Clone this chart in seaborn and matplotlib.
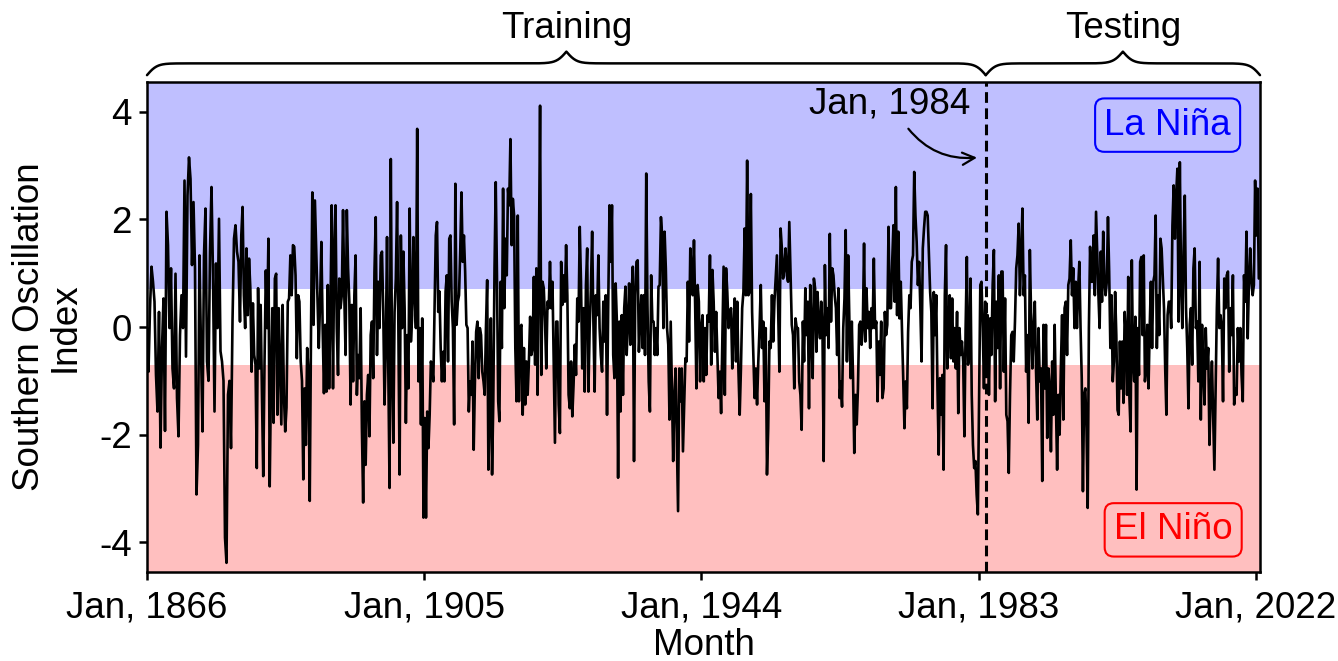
import numpy as np
import pandas as pd
import seaborn as sns
import matplotlib
matplotlib.use("Agg")
import matplotlib.pyplot as plt

# SOI values, one block per 157 months (~13 years)
soi_1866 = [-0.02, -0.83, 0.35, 1.12, 0.84, 0.47, -0.89, -1.57, 0.28, -2.24, -0.4, 0.53, -1.93, 2.14, 1.52, -0.02,
            1.09, -0.77, -1.14, 0.99, -1.32, -2.03, -0.15, 0.59, -0.02, 2.72, -0.55, 2.44, 3.15, 2.75, 1.15, 2.32,
            1.09, -3.11, -2.19, 1.33, -0.4, -1.94, 1.33, 2.2, -0.64, -1.0, 1.4, 2.6, 0.96, -1.57, 1.18, -0.02,
            2.01, -0.45, -0.64, -1.0, -3.91, -4.38, -1.26, -1.0, -2.25, 0.1, 1.64, 1.89, 1.4, 1.21]
soi_1879 = [0.1, 1.7, 2.23, 0.59, -0.02, 1.46, 0.22, 1.27, 0.72, -0.83, 0.44, -0.52, -0.7, -2.62, 0.72, -0.77,
            0.41, -1.26, -2.77, -0.64, 1.05, -0.02, 1.64, -2.96, -1.01, 0.35, -1.78, 0.9, 0.99, -1.63, 0.35, -0.7,
            -1.81, 0.41, -1.26, -1.94, -1.5, 0.47, 0.53, 1.33, 0.59, 1.52, 1.49, 0.96, -0.58, 0.59, 0.47, -0.64,
            -1.0, -2.83, -1.14, -2.19, -0.39, -0.83, -3.23, -0.02, 2.5, 0.04, 2.35, 1.46, 0.59, -0.39, 0.47, 1.58,
            -0.02, -1.23, 0.04, -1.2, 0.78, -1.14, 0.22, 2.26]
soi_1892 = [-1.14, 1.4, 2.26, -0.02, -0.89, 0.9, 0.35, 0.59, 2.17, 0.59, -0.52, 2.17, 1.09, 0.47, -1.44, 0.41,
            -1.01, 0.59, 1.33, -1.26, -0.52, -0.95, 0.35, -1.88, -3.26, -1.38, -2.56, -1.26, -0.89, -2.03, -0.15, 0.1,
            -0.95, 1.03, 2.04, -0.52, 0.84, -0.02, 1.33, 1.4, 0.28, -1.44, -0.39, 1.67, -0.77, -2.99, 3.12, -0.77,
            -2.15, 0.28, 0.9, 2.32, 0.04, -2.74, 1.7, -0.02, 1.4, 0.35, -1.78, -0.15, -1.14, 2.2, -0.27, 0.22,
            1.67, 0.59, -0.02, 3.68, -1.01, -0.02, -1.81, 0.16, -3.54, -1.69]
soi_1905 = [-3.54, -1.57, -2.25, -1.63, -0.64, -0.77, -1.01, 0.35, 1.7, 1.95, 0.28, 0.66, -0.39, -1.01, -0.46, -1.01,
            0.66, 0.96, -0.64, 1.64, 1.7, 0.47, -0.02, -1.81, 2.66, 0.04, 0.47, 0.59, 1.43, 2.5, 1.21, 1.7,
            1.03, 0.04, -0.02, -1.57, -1.01, -1.26, -0.27, -2.28, -1.01, -0.09, 0.1, -0.95, -0.02, -0.15, -0.83, -1.01,
            -1.26, -0.02, 0.87, -2.65, -1.63, 0.16, -2.74, -1.38, 1.09, 2.69, 0.96, -1.38, -1.75, 0.84, -0.39, 2.57,
            0.35, 1.64, 0.96, 2.57, 2.26, 3.49, 1.52, 2.38, 2.07, -0.39, -1.38, 2.07]
soi_1918 = [-1.38, -0.02, 0.04, -1.63, -0.39, -1.44, -0.64, -1.26, -0.64, 0.19, -0.52, -0.39, 0.93, -0.7, 1.09, -1.26,
            1.09, 4.11, -0.89, 0.84, 0.72, 0.1, -0.77, 0.47, 0.35, 1.21, 0.35, 0.84, -0.64, -2.15, 0.1, 0.1,
            -1.44, -1.97, 1.21, 0.41, 0.96, 0.47, 1.52, 0.59, -1.26, -1.51, -0.64, -1.66, -1.08, -0.33, -0.89, 0.53,
            0.1, 1.86, 0.84, -0.77, 0.35, -1.2, 0.78, 1.46, -1.2, -0.02, 0.72, 1.77, 0.1, -1.2, 0.59, 0.22,
            1.33, -0.02, -0.52, -0.83, 0.47, -0.27, 0.59, -1.63, 0.47, 2.26, 1.21]
soi_1931 = [2.26, -0.52, -0.95, 0.81, 0.1, -2.8, 0.1, -1.57, 0.22, -1.26, 0.35, 0.75, -0.52, 0.1, 0.81, -0.33,
            0.59, 1.12, -2.49, 0.59, 1.21, 1.24, -0.46, 0.1, 0.59, -0.39, 0.59, -0.52, 2.85, 0.41, -1.01, -1.57,
            0.96, 0.1, 0.1, -0.52, -0.02, -0.52, 0.75, 0.78, 2.04, 1.7, -0.02, 1.77, 1.09, -0.02, -0.33, -1.72,
            0.1, -1.2, -2.49, -1.26, -0.77, -2.12, -3.42, -0.77, -1.38, -0.77, -2.31, -1.44, -0.58, -0.64, 0.84, -0.27,
            1.46, 1.09, 0.59, 1.61, 0.35, -1.14, 0.78, 0.47, -1.01, -0.02, 0.22, -1.01]
soi_1944 = [-0.02, -0.89, 0.22, 0.1, 1.33, -0.7, 1.06, 0.47, -0.46, 0.28, -0.52, -1.32, -0.83, -1.6, -0.27, 1.12,
            -1.26, 1.09, 0.65, -0.02, 0.22, 0.35, -0.77, -0.02, 0.53, -0.64, 0.47, -0.83, -1.63, -0.77, 0.35, 0.65,
            1.83, 0.59, 3.09, 0.59, 0.65, 2.47, 0.28, -0.52, -1.32, -0.77, -1.44, -0.64, -0.02, 0.78, -0.39, 0.1,
            -1.38, -0.02, -2.74, -1.88, -0.27, -0.39, 0.59, -0.27, 0.47, 0.9, 1.33, 0.35, -0.83, 1.83, 1.46, 0.9,
            1.09, 1.46, 0.96, 0.84, 1.95, 0.96, 0.04, -0.15, -1.14, 0.16, -0.02]
soi_1957 = [-0.02, -1.01, -1.26, -1.91, 0.1, -0.64, 0.72, -0.15, 0.47, -1.51, 0.78, -0.02, -0.95, 0.9, 0.72, -0.46,
            0.65, 0.04, -0.21, 0.47, -0.02, -2.49, 1.15, -0.15, 0.35, -0.39, 1.73, 0.1, 1.09, 0.96, 0.59, 0.35,
            -0.52, 0.72, -1.32, -1.01, -1.48, -0.02, 0.53, 1.8, -0.64, 1.33, 0.1, -0.95, 0.1, -0.95, -2.34, -1.26,
            -1.81, -1.14, 0.04, 0.1, -0.33, 0.04, 1.55, -0.27, 0.72, -0.02, 0.28, -0.39, 0.35, -0.02, 1.27, -0.02,
            0.1, -1.38, -0.27, -0.89, 0.1, -1.32, -1.14, 0.28, -0.15, 0.04, 1.86, 0.35]
soi_1970 = [0.35, 1.21, 1.89, 0.47, 2.6, 0.22, 1.77, 0.16, 0.84, -0.02, -0.95, -1.88, -1.01, -1.51, -0.09, 0.59,
            0.35, 1.21, 1.33, 2.88, 2.07, 1.58, 0.78, 1.21, 0.35, -0.64, 1.46, 1.83, 2.14, 2.14, 2.07, 1.33,
            0.65, 0.28, -1.51, 0.65, -0.15, 0.59, -1.14, -2.37, -0.95, -1.63, -0.89, -2.65, 0.59, 1.52, -0.77, -0.02,
            0.59, -0.58, 0.53, -0.64, -0.02, -0.77, 0.28, -1.6, -0.02, -0.52, -0.27, -0.64, -2.03, -0.02, 1.3, -0.7,
            -0.52, 0.9, -1.26, -2.19, -2.62, -2.49, -3.11, -3.48, -1.26, 0.78, 0.84, -0.02]
soi_1983 = [-1.14, 0.47, -0.89, 0.22, -1.26, 0.16, -0.52, 0.78, 1.43, -1.38, 0.47, -0.39, 0.96, -1.14, 1.03, 1.03,
            -0.83, 0.53, -1.63, -1.75, -2.71, -1.26, -0.15, -0.09, -0.64, 0.1, 1.09, 1.33, 1.92, 0.59, 1.33, 2.2,
            0.59, 0.96, -0.83, -0.15, -1.78, 1.43, 0.22, -0.77, -0.02, 0.47, -0.83, -1.72, -0.02, -1.01, -0.77, -2.86,
            0.04, -1.14, 0.04, -2.06, -0.77, -1.14, -2.31, -0.64, -1.63, 0.04, -1.38, -2.65, -1.26, -2.0, -0.77, 0.22,
            -1.72, 0.35, 0.47, -0.52, 0.78, 0.9, 1.61, 0.59, 1.09, -0.02, 0.84]
soi_1996 = [-0.02, 0.72, 1.21, -0.02, -0.95, -3.05, -1.26, -1.14, -1.88, -3.36, -0.02, 1.49, 0.84, 0.84, 1.7, 0.59,
            2.14, 1.33, 0.59, -0.02, 1.4, 0.47, 1.77, 0.84, 0.59, 0.84, 2.04, 1.03, -0.39, 0.59, -1.01, -0.64,
            0.65, -0.15, -1.54, -1.63, -0.27, -1.14, -0.27, -1.41, 0.28, -0.15, -1.26, 0.93, -1.32, -1.94, 1.24, -0.64,
            -1.01, 0.19, -3.02, -0.02, -0.89, 1.21, 1.3, -0.15, 1.33, -1.01, -0.77, 0.04, -1.14, -0.02, 0.84, -0.39,
            0.84, 0.96, 2.07, -0.39, 0.59, -0.15, 1.64, 1.46, 0.9, 0.35, -0.77, -1.63, 0.22, 0.47]
soi_2009 = [0.47, -0.02, 1.89, 2.63, 1.64, 2.44, 2.94, 0.1, 3.06, 0.84, -0.02, 1.4, 2.44, 0.35, -0.39, -1.51,
            0.04, 0.35, -0.7, 1.09, 1.46, -0.02, 0.1, -1.01, 1.21, -1.72, 0.04, -0.77, -1.44, -0.02, -0.77, -0.39,
            -2.19, -1.26, -0.64, -1.63, -2.65, -1.14, 0.35, 1.27, -0.02, 0.22, -0.02, -1.38, 0.9, 0.35, 0.96, 1.03,
            -0.83, 0.35, -0.15, 0.96, -1.44, -1.14, -1.26, -0.02, -0.64, -0.02, -0.89, -1.38, 0.96, 0.47, 1.77, -0.21,
            0.84, 1.46, 0.84, 0.59, 0.78, 2.72, 1.7, 2.57, 0.9]

blocks = [soi_1866, soi_1879, soi_1892, soi_1905, soi_1918, soi_1931,
          soi_1944, soi_1957, soi_1970, soi_1983, soi_1996, soi_2009]
block_len = 157      # months per block
last_month = 1877    # Jun 2022, counted from Jan 1866
xmax = 1879

tick_months = [0, 468, 936, 1404, 1872]
tick_labels = ['Jan, 1866', 'Jan, 1905', 'Jan, 1944', 'Jan, 1983', 'Jan, 2022']
y_ticks = [-4, -2, 0, 2, 4]
split_month = 1416   # Jan 1984
la_nina_cut = 0.7
el_nino_cut = -0.7

months, values = [], []
for i, blk in enumerate(blocks):
    start = i * block_len
    if i == len(blocks) - 1:
        pos = np.linspace(start, last_month, len(blk))
    else:
        pos = np.linspace(start, start + block_len, len(blk), endpoint=False)
    months.extend(pos)
    values.extend(blk)
df = pd.DataFrame({'month': months, 'soi': values})

sns.set_style('ticks')
plt.rcParams['font.family'] = ['Liberation Sans', 'DejaVu Sans']
plt.rcParams['axes.unicode_minus'] = False
for k in ['text.color', 'axes.labelcolor', 'xtick.color', 'ytick.color', 'axes.edgecolor']:
    plt.rcParams[k] = 'black'
fs = 26.5

fig = plt.figure(figsize=(13.38, 6.61), dpi=100)
ax = fig.add_axes([147 / 1338, 1 - 572 / 661, 1113 / 1338, 490 / 661])
ylo, yhi = -4.55, 4.55

ax.axhspan(la_nina_cut, yhi, color='blue', alpha=0.25, lw=0)
ax.axhspan(ylo, el_nino_cut, color='red', alpha=0.25, lw=0)
sns.lineplot(data=df, x='month', y='soi', color='black', lw=1.9, ax=ax)
ax.axvline(split_month, color='black', ls=(0, (3.5, 1.8)), lw=2.2)

ax.set_xlim(0, xmax)
ax.set_ylim(ylo, yhi)
ax.set_xticks(tick_months)
ax.set_xticklabels(tick_labels)
ax.set_yticks(y_ticks)
ax.tick_params(labelsize=fs, length=6, width=1.8)
ax.tick_params(axis='x', pad=7)
ax.tick_params(axis='y', pad=5)
for s in ax.spines.values():
    s.set_linewidth(1.8)
ax.set_xlabel('Month', fontsize=fs, labelpad=2)
ax.set_ylabel('Southern Oscillation\nIndex', fontsize=fs, labelpad=12, linespacing=1.0)

ax.annotate('Jan, 1984', xy=(split_month - 10, 3.15), xytext=(1254, 4.15),
            fontsize=fs, ha='center', va='center',
            arrowprops=dict(arrowstyle='->', color='black', lw=1.6,
                            connectionstyle='arc3,rad=0.3', relpos=(0.58, 0.0),
                            shrinkA=4, shrinkB=2, mutation_scale=22))

ax.text(0.917, 0.912, 'La Niña', transform=ax.transAxes, fontsize=fs, color='blue',
        ha='center', va='center',
        bbox=dict(boxstyle='round,pad=0.25', fc='none', ec='blue', lw=1.5))
ax.text(0.922, 0.086, 'El Niño', transform=ax.transAxes, fontsize=fs, color='red',
        ha='center', va='center',
        bbox=dict(boxstyle='round,pad=0.25', fc='none', ec='red', lw=1.5))


def draw_brace(ax, x0, x1, label):
    n = 801
    xs = np.linspace(x0, x1, n)
    half = xs[:n // 2 + 1]
    beta = 220.0
    yh = 1 / (1 + np.exp(-beta * (half - half[0]))) + 1 / (1 + np.exp(-beta * (half - half[-1])))
    ys = np.concatenate([yh, yh[-2::-1]])
    ys = 1.014 + (ys - 0.5) * 0.048
    ax.plot(xs, ys, color='black', lw=1.8, transform=ax.transAxes, clip_on=False,
            solid_capstyle='round')
    ax.text((x0 + x1) / 2, 1.11, label, transform=ax.transAxes, fontsize=fs,
            ha='center', va='center')


split_frac = split_month / xmax
draw_brace(ax, 0.0, split_frac, 'Training')
draw_brace(ax, split_frac, 1.0, 'Testing')

fig.savefig('out.png', dpi=100)
